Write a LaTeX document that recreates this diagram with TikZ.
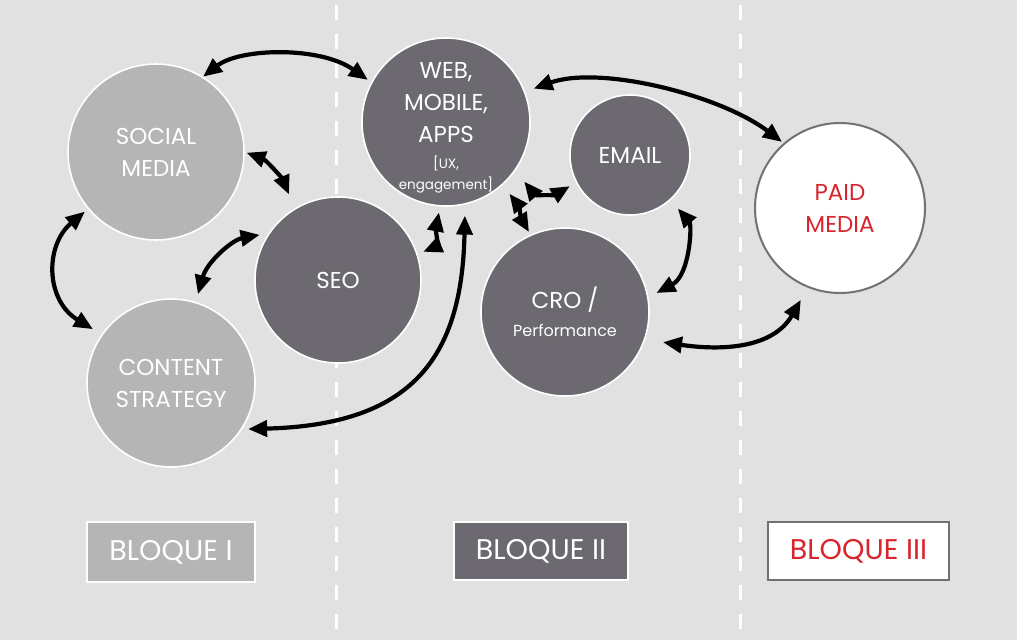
\documentclass[tikz,border=0pt]{standalone}
\usepackage{fontspec}
\setmainfont{Poppins}
\usetikzlibrary{arrows.meta}
\definecolor{bg}{HTML}{E1E1E1}
\definecolor{lightc}{HTML}{B5B5B5}
\definecolor{darkc}{HTML}{6C6970}
\definecolor{redc}{HTML}{D9232D}
\definecolor{edgec}{HTML}{717075}
\begin{document}
\begin{tikzpicture}[x=1pt,y=-1pt,
  circ/.style={circle, inner sep=0pt, draw=white, line width=1.6pt, text=white, align=center, font=\fontsize{23}{32}\selectfont},
  lightcirc/.style={circ, fill=lightc},
  darkcirc/.style={circ, fill=darkc},
  boxst/.style={rectangle, inner sep=0pt, line width=2pt, font=\fontsize{28.5}{32}\selectfont},
  arr/.style={line width=4.2pt, {Triangle[length=19pt,width=16pt]}-{Triangle[length=19pt,width=16pt]}},
  sep/.style={white, line width=3pt, dash pattern=on 15pt off 14pt}]
\useasboundingbox[fill=bg] (0,0) rectangle (1017,640);
\draw[sep] (336,5) -- (336,640);
\draw[sep] (740,5) -- (740,640);

\node[lightcirc, minimum size=176pt] (soc) at (156,152) {SOCIAL\\MEDIA};
\node[lightcirc, minimum size=168pt] (con) at (171,383) {CONTENT\\STRATEGY};
\node[darkcirc, minimum size=166pt] (seo) at (338,280) {SEO};
\node[darkcirc, minimum size=168pt,
  label={[text=white, align=center, font=\fontsize{23}{32}\selectfont, yshift=-6pt]center:WEB,\\MOBILE,\\APPS\\[-6pt]{\fontsize{13.5}{20}\selectfont [UX,}\\[-11pt]{\fontsize{13.5}{20}\selectfont engagement]}}] (web) at (446,122) {};
\node[darkcirc, minimum size=120pt] (ema) at (630,155) {EMAIL};
\node[darkcirc, minimum size=168pt] (cro) at (565,312) {CRO /\\[-4pt]{\fontsize{16}{20}\selectfont Performance}};
\node[circ, fill=white, draw=edgec, line width=2pt, text=redc, minimum size=170pt] (paid) at (840,208) {PAID\\MEDIA};

\node[boxst, fill=lightc, draw=white, text=white, minimum width=168pt, minimum height=60pt] (b1) at (171,552) {BLOQUE I};
\node[boxst, fill=darkc, draw=white, text=white, minimum width=174pt, minimum height=58pt] (b2) at (541,551) {BLOQUE II};
\node[boxst, fill=white, draw=edgec, text=redc, minimum width=181pt, minimum height=58pt] (b3) at (858.5,551) {BLOQUE III};

\draw[arr, shorten >=4pt] (soc.58) .. controls (240,48) and (320,46) .. (web.152);
\draw[arr, shorten <=2pt, shorten >=15pt] (soc.0) .. controls (266,160) and (282,178) .. (seo.121);
\draw[arr, shorten <=4pt, shorten >=10pt] (soc.220) .. controls (45,245) and (45,300) .. (con.145);
\draw[arr, shorten <=8pt, shorten >=9pt] (con.73) .. controls (207,262) and (232,240) .. (seo.146);
\draw[arr, shorten <=6pt, shorten >=6pt] (seo.18) .. controls (437,246) and (436,228) .. (web.266);
\draw[arr, shorten <=6pt, shorten >=11pt] (con.327) .. controls (410,425) and (462,360) .. (web.283);
\draw[arr, shorten <=9pt, shorten >=2pt] (web.21) .. controls (600,65) and (720,95) .. (paid.131);
\draw[arr, shorten <=14pt, shorten >=7pt] (web.325) .. controls (535,195) and (555,195) .. (ema.207);
\draw[arr, shorten <=11pt, shorten >=3pt] (web.312) .. controls (518,205) and (522,220) .. (cro.114);
\draw[arr, shorten <=11pt, shorten >=9pt] (ema.312) .. controls (692,225) and (690,275) .. (cro.10);
\draw[arr, shorten <=18pt, shorten >=14pt] (cro.341) .. controls (730,352) and (775,345) .. (paid.248);
\end{tikzpicture}
\end{document}
